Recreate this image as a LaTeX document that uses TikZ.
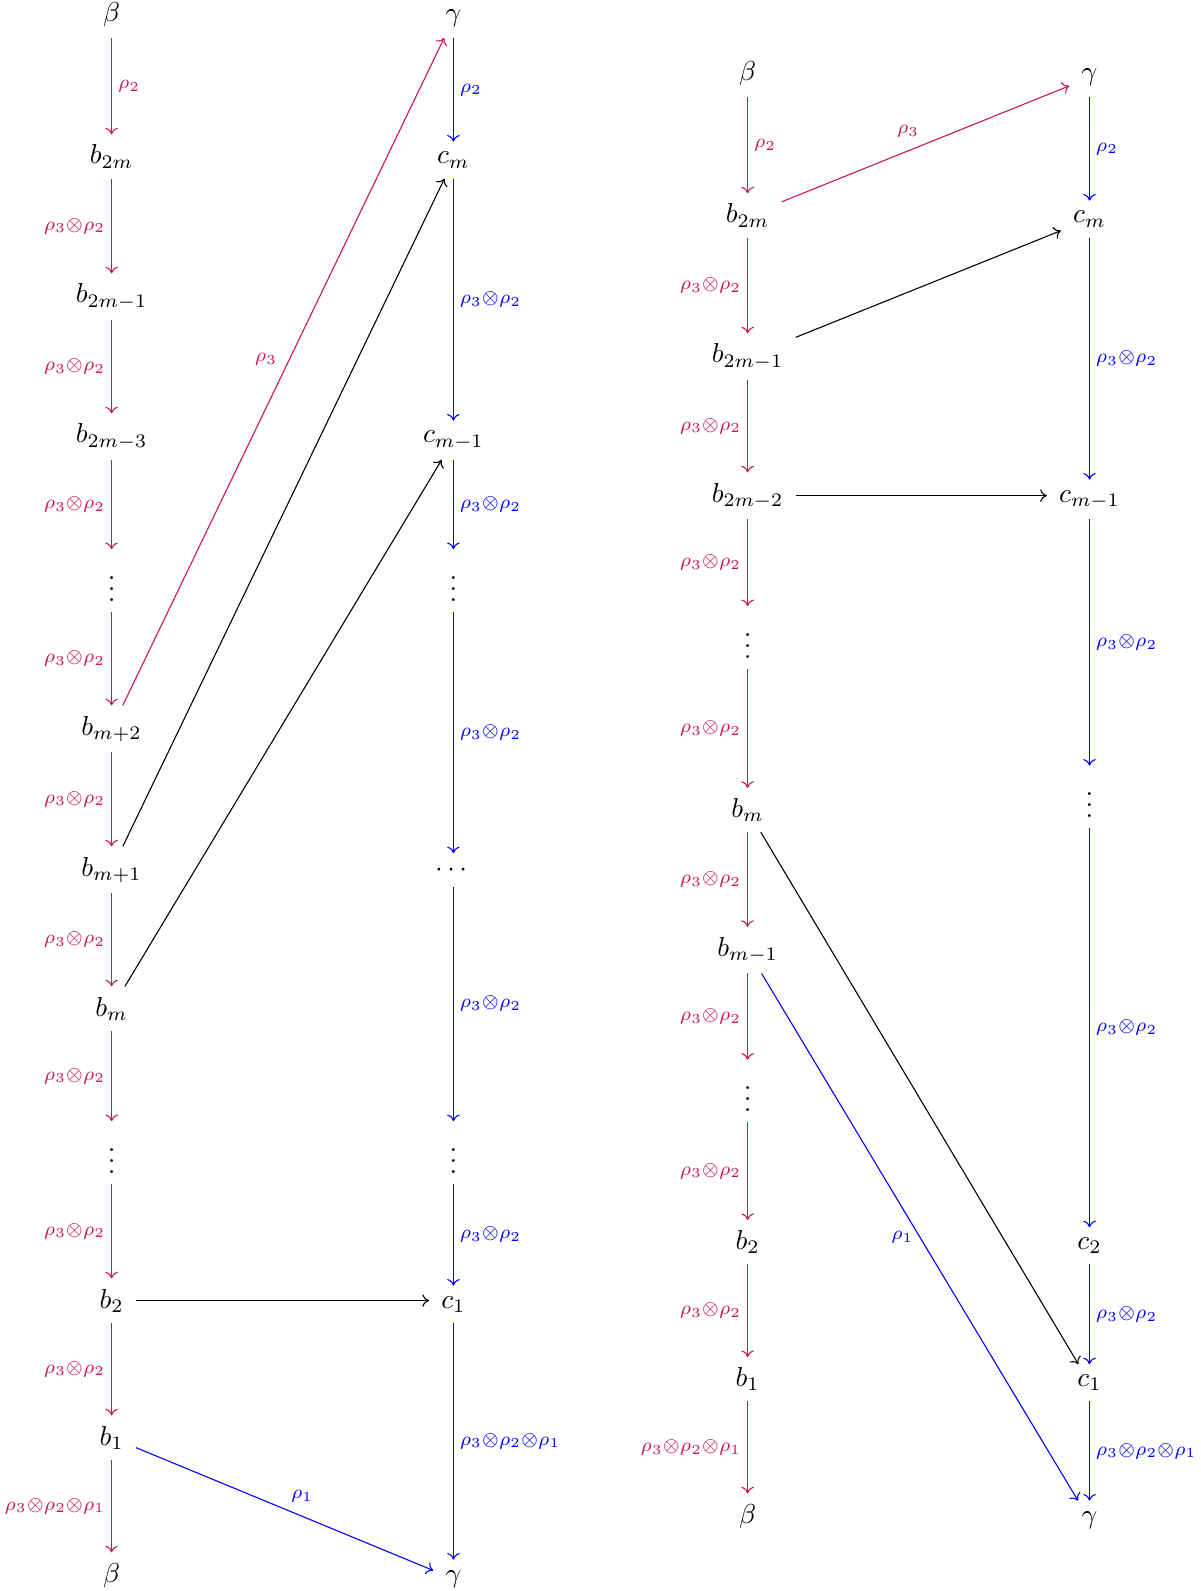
\documentclass[tikz,border=0pt]{standalone}
\usepackage{amsmath,amssymb}
\usetikzlibrary{arrows.meta}
\definecolor{crim}{RGB}{204,20,85}
\definecolor{blu}{RGB}{0,0,255}
\begin{document}
\begin{tikzpicture}[x=0.365pt,y=-0.365pt,
  cell/.style={anchor=base, inner xsep=1ex, inner ysep=0.85ex},
  arr/.style={-{To[length=2.4pt,width=4.6pt]}, line width=0.4pt},
  rarr/.style={arr, color=crim},
  barr/.style={arr, color=blu},
  karr/.style={arr, color=black},
  lbl/.style={inner sep=0.5ex, auto},
  lbls/.style={inner sep=0.5ex, auto, swap}]
\useasboundingbox (0,0) rectangle (1200,1591);
% ---------- left diagram ----------
\node[cell] (Lbeta)  at (111.6,22)   {$\beta$};
\node[cell] (Lb2m)   at (111.6,164)  {$b_{2m}$};
\node[cell] (Lb2m1)  at (111.6,303)  {$b_{2m-1}$};
\node[cell] (Lb2m3)  at (111.6,443)  {$b_{2m-3}$};
\node[cell] (Lbv1)   at (111.6,601)  {$\vdots$};
\node[cell] (Lbm2)   at (111.6,735)  {$b_{m+2}$};
\node[cell] (Lbm1)   at (111.6,876)  {$b_{m+1}$};
\node[cell] (Lbm)    at (111.6,1016) {$b_m$};
\node[cell] (Lbv2)   at (111.6,1173) {$\vdots$};
\node[cell] (Lb2)    at (111.6,1308) {$b_2$};
\node[cell] (Lb1)    at (111.6,1445) {$b_1$};
\node[cell] (Lbetab) at (111.6,1582) {$\beta$};
\node[cell] (Lgamma) at (453.4,22)   {$\gamma$};
\node[cell] (Lcm)    at (453.4,164)  {$c_m$};
\node[cell] (Lcm1)   at (453.4,443)  {$c_{m-1}$};
\node[cell] (Lcv1)   at (453.4,601)  {$\vdots$};
\node[cell] (Lcdots) at (453.4,876)  {$\cdots$};
\node[cell] (Lcv2)   at (453.4,1173) {$\vdots$};
\node[cell] (Lc1)    at (453.4,1308) {$c_1$};
\node[cell] (Lgammab) at (453.4,1582) {$\gamma$};
% red column
\draw[rarr] (Lbeta) -- node[lbl] {$\scriptstyle\rho_2$} (Lb2m);
\draw[rarr] (Lb2m) -- node[lbls] {$\scriptstyle\rho_3\otimes\rho_2$} (Lb2m1);
\draw[rarr] (Lb2m1) -- node[lbls] {$\scriptstyle\rho_3\otimes\rho_2$} (Lb2m3);
\draw[rarr] (Lb2m3) -- node[lbls] {$\scriptstyle\rho_3\otimes\rho_2$} (Lbv1);
\draw[rarr] (Lbv1) -- node[lbls] {$\scriptstyle\rho_3\otimes\rho_2$} (Lbm2);
\draw[rarr] (Lbm2) -- node[lbls] {$\scriptstyle\rho_3\otimes\rho_2$} (Lbm1);
\draw[rarr] (Lbm1) -- node[lbls] {$\scriptstyle\rho_3\otimes\rho_2$} (Lbm);
\draw[rarr] (Lbm) -- node[lbls] {$\scriptstyle\rho_3\otimes\rho_2$} (Lbv2);
\draw[rarr] (Lbv2) -- node[lbls] {$\scriptstyle\rho_3\otimes\rho_2$} (Lb2);
\draw[rarr] (Lb2) -- node[lbls] {$\scriptstyle\rho_3\otimes\rho_2$} (Lb1);
\draw[rarr] (Lb1) -- node[lbls] {$\scriptstyle\rho_3\otimes\rho_2\otimes\rho_1$} (Lbetab);
% blue column
\draw[barr] (Lgamma) -- node[lbl] {$\scriptstyle\rho_2$} (Lcm);
\draw[barr] (Lcm) -- node[lbl] {$\scriptstyle\rho_3\otimes\rho_2$} (Lcm1);
\draw[barr] (Lcm1) -- node[lbl] {$\scriptstyle\rho_3\otimes\rho_2$} (Lcv1);
\draw[barr] (Lcv1) -- node[lbl] {$\scriptstyle\rho_3\otimes\rho_2$} (Lcdots);
\draw[barr] (Lcdots) -- node[lbl] {$\scriptstyle\rho_3\otimes\rho_2$} (Lcv2);
\draw[barr] (Lcv2) -- node[lbl] {$\scriptstyle\rho_3\otimes\rho_2$} (Lc1);
\draw[barr] (Lc1) -- node[lbl] {$\scriptstyle\rho_3\otimes\rho_2\otimes\rho_1$} (Lgammab);
% cross arrows
\draw[rarr] (Lbm2) -- node[lbl] {$\scriptstyle\rho_3$} (Lgamma);
\draw[karr] (Lbm1) -- (Lcm);
\draw[karr] (Lbm) -- (Lcm1);
\draw[karr] (Lb2) -- (Lb2 -| Lc1.west);
\draw[barr] (Lb1) -- node[lbl] {$\scriptstyle\rho_1$} (Lgammab);
% ---------- right diagram ----------
\node[cell] (Rbeta)  at (747.6,81)     {$\beta$};
\node[cell] (Rb2m)   at (747.6,223)    {$b_{2m}$};
\node[cell] (Rb2m1)  at (747.6,363)    {$b_{2m-1}$};
\node[cell] (Rb2m2)  at (747.6,502)    {$b_{2m-2}$};
\node[cell] (Rbv1)   at (747.6,658)    {$\vdots$};
\node[cell] (Rbm)    at (747.6,817.5)  {$b_m$};
\node[cell] (Rbm1)   at (747.6,956.5)  {$b_{m-1}$};
\node[cell] (Rbv2)   at (747.6,1111.6) {$\vdots$};
\node[cell] (Rb2)    at (747.6,1249.6) {$b_2$};
\node[cell] (Rb1)    at (747.6,1386.6) {$b_1$};
\node[cell] (Rbetab) at (747.6,1523)   {$\beta$};
\node[cell] (Rgamma) at (1089.5,81)    {$\gamma$};
\node[cell] (Rcm)    at (1089.5,223)   {$c_m$};
\node[cell] (Rcm1)   at (1089.5,502)   {$c_{m-1}$};
\node[cell] (Rcv)    at (1089.5,817.5) {$\vdots$};
\node[cell] (Rc2)    at (1089.5,1249.6) {$c_2$};
\node[cell] (Rc1)    at (1089.5,1386.6) {$c_1$};
\node[cell] (Rgammab) at (1089.5,1523) {$\gamma$};
% red column
\draw[rarr] (Rbeta) -- node[lbl] {$\scriptstyle\rho_2$} (Rb2m);
\draw[rarr] (Rb2m) -- node[lbls] {$\scriptstyle\rho_3\otimes\rho_2$} (Rb2m1);
\draw[rarr] (Rb2m1) -- node[lbls] {$\scriptstyle\rho_3\otimes\rho_2$} (Rb2m2);
\draw[rarr] (Rb2m2) -- node[lbls] {$\scriptstyle\rho_3\otimes\rho_2$} (Rbv1);
\draw[rarr] (Rbv1) -- node[lbls] {$\scriptstyle\rho_3\otimes\rho_2$} (Rbm);
\draw[rarr] (Rbm) -- node[lbls] {$\scriptstyle\rho_3\otimes\rho_2$} (Rbm1);
\draw[rarr] (Rbm1) -- node[lbls] {$\scriptstyle\rho_3\otimes\rho_2$} (Rbv2);
\draw[rarr] (Rbv2) -- node[lbls] {$\scriptstyle\rho_3\otimes\rho_2$} (Rb2);
\draw[rarr] (Rb2) -- node[lbls] {$\scriptstyle\rho_3\otimes\rho_2$} (Rb1);
\draw[rarr] (Rb1) -- node[lbls] {$\scriptstyle\rho_3\otimes\rho_2\otimes\rho_1$} (Rbetab);
% blue column
\draw[barr] (Rgamma) -- node[lbl] {$\scriptstyle\rho_2$} (Rcm);
\draw[barr] (Rcm) -- node[lbl] {$\scriptstyle\rho_3\otimes\rho_2$} (Rcm1);
\draw[barr] (Rcm1) -- node[lbl] {$\scriptstyle\rho_3\otimes\rho_2$} (Rcv);
\draw[barr] (Rcv) -- node[lbl] {$\scriptstyle\rho_3\otimes\rho_2$} (Rc2);
\draw[barr] (Rc2) -- node[lbl] {$\scriptstyle\rho_3\otimes\rho_2$} (Rc1);
\draw[barr] (Rc1) -- node[lbl] {$\scriptstyle\rho_3\otimes\rho_2\otimes\rho_1$} (Rgammab);
% cross arrows
\draw[rarr] (Rb2m) -- node[lbl] {$\scriptstyle\rho_3$} (Rgamma);
\draw[karr] (Rb2m1) -- (Rcm);
\draw[karr] (Rb2m2) -- (Rb2m2 -| Rcm1.west);
\draw[karr] (Rbm) -- (Rc1);
\draw[barr] (Rbm1) -- node[inner sep=0.5ex, anchor=east] {$\scriptstyle\rho_1$} (Rgammab);
\end{tikzpicture}
\end{document}
